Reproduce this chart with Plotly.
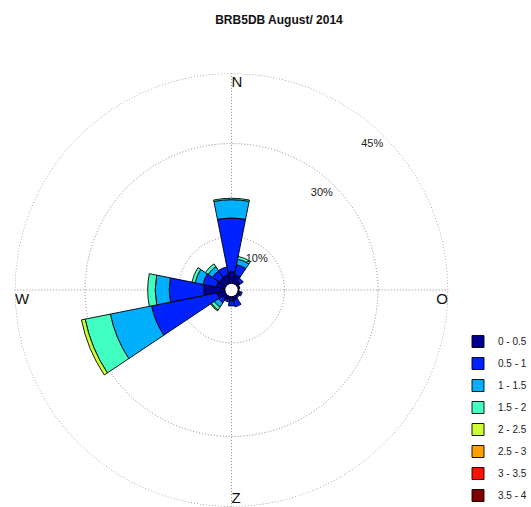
import plotly.graph_objects as go

title_text = "BRB5DB August/ 2014"

# 16 compass directions (degrees, clockwise from North)
directions = [0, 22.5, 45, 67.5, 90, 112.5, 135, 157.5,
              180, 202.5, 225, 247.5, 270, 292.5, 315, 337.5]

# frequency (%) per wind-speed bin, per direction
bin_labels = ["0 - 0.5", "0.5 - 1", "1 - 1.5", "1.5 - 2",
              "2 - 2.5", "2.5 - 3", "3 - 3.5", "3.5 - 4"]
freq_0_05 = [2.6, 2.0, 1.0, 0.5, 0.3, 0.6, 0.4, 0.9, 1.1, 0.8, 1.0, 1.8, 4.6, 2.0, 1.8, 2.0]
freq_05_1 = [11.5, 2.2, 0.7, 0.0, 0.0, 0.4, 0.3, 1.45, 1.0, 0.5, 1.0, 14.3, 7.4, 2.9, 1.8, 1.7]
freq_1_15 = [3.9, 1.2, 0.0, 0.0, 0.0, 0.0, 0.0, 0.0, 0.0, 0.0, 1.1, 9.0, 3.0, 1.7, 1.1, 0.0]
freq_15_2 = [0.3, 0.6, 0.0, 0.0, 0.0, 0.0, 0.0, 0.0, 0.0, 0.0, 0.75, 5.5, 1.6, 0.7, 0.7, 0.0]
freq_2_25 = [0.0, 0.0, 0.0, 0.0, 0.0, 0.0, 0.0, 0.0, 0.0, 0.0, 0.2, 0.8, 0.0, 0.0, 0.0, 0.0]
freq_25_3 = [0.0] * 16
freq_3_35 = [0.0] * 16
freq_35_4 = [0.0] * 16

bin_colors = ["#000090", "#0022FF", "#00B0FF", "#40FFC0",
              "#CCFF33", "#FFA000", "#FF1000", "#800000"]

compass_labels = ["N", "O", "Z", "W"]
compass_angles = [0, 90, 180, 270]
ring_values = [10, 30, 45]
ring_labels = ["10%", "30%", "45%"]

series = [freq_0_05, freq_05_1, freq_1_15, freq_15_2,
          freq_2_25, freq_25_3, freq_3_35, freq_35_4]

GRID = "#8a8a8a"

fig = go.Figure()

# outer 45 % ring (plotly omits the gridline at the range edge)
outer_theta = [i * 2 for i in range(181)]
fig.add_trace(go.Scatterpolar(
    r=[ring_values[-1]] * len(outer_theta), theta=outer_theta, mode="lines",
    line=dict(color=GRID, width=1, dash="1px,2px"),
    showlegend=False, hoverinfo="skip", cliponaxis=False,
))

for i, (vals, lab, col) in enumerate(zip(series, bin_labels, bin_colors)):
    fig.add_trace(go.Barpolar(
        r=vals, theta=directions, width=[22.5] * len(directions),
        name=lab, legendgroup=lab,
        marker=dict(color=col, line=dict(color="#000000", width=0.9)),
        hoverinfo="skip",
    ))

# compass letters just inside the outer ring
fig.add_trace(go.Scatterpolar(
    r=[44.6, 45, 45, 45], theta=[0, 90.7, 180, 269.3], mode="text", text=compass_labels,
    textposition=["bottom right", "bottom left", "top right", "bottom right"],
    textfont=dict(family="Liberation Sans, Arial, sans-serif", size=15, color="#111111"),
    showlegend=False, hoverinfo="skip", cliponaxis=False,
))
# ring labels
fig.add_trace(go.Scatterpolar(
    r=[7.25, 27.0, 42.0], theta=[39, 43, 44], mode="text", text=ring_labels,
    textposition="middle center",
    textfont=dict(family="Liberation Sans, Arial, sans-serif", size=11, color="#222222"),
    showlegend=False, hoverinfo="skip", cliponaxis=False,
))

W, H = 531, 507
CX, CY, R_DISK = 231.5, 290.0, 216.8


def px_x(x):
    return x / W


def px_y(y):  # y measured from the top of the figure
    return 1 - y / H


fig.update_layout(
    width=W, height=H,
    margin=dict(l=0, r=0, t=0, b=0, autoexpand=False),
    paper_bgcolor="white",
    font=dict(family="Liberation Sans, Arial, sans-serif", color="#111111"),
    title=dict(text="<b>" + title_text + "</b>", x=px_x(279), xanchor="center",
               y=px_y(20), yanchor="middle",
               font=dict(size=12, color="#111111")),
    polar=dict(
        domain=dict(x=[px_x(CX - R_DISK), px_x(CX + R_DISK)],
                    y=[max(0.0, px_y(CY + R_DISK)), px_y(CY - R_DISK)]),
        bgcolor="white",
        hole=0.0286,
        barmode="stack",
        bargap=0,
        radialaxis=dict(range=[0, 45.05], tickvals=ring_values, showticklabels=False,
                        ticks="", showline=False, gridcolor=GRID,
                        griddash="1px,2px", gridwidth=1),
        angularaxis=dict(rotation=90, direction="clockwise",
                         tickvals=compass_angles, showticklabels=False, ticks="",
                         showline=False, gridcolor=GRID, griddash="1px,2px",
                         gridwidth=1),
    ),
    legend=dict(x=px_x(458), xanchor="left", y=px_y(327), yanchor="top",
                traceorder="reversed+grouped", tracegroupgap=3,
                font=dict(size=10, color="#222222"),
                bgcolor="rgba(0,0,0,0)", itemclick=False),
    showlegend=True,
)

# the page is shown without the browser's default 8px body margin
fig.write_html(
    "out.html",
    config={"displayModeBar": False},
    post_script="document.body.style.margin='0';",
)
